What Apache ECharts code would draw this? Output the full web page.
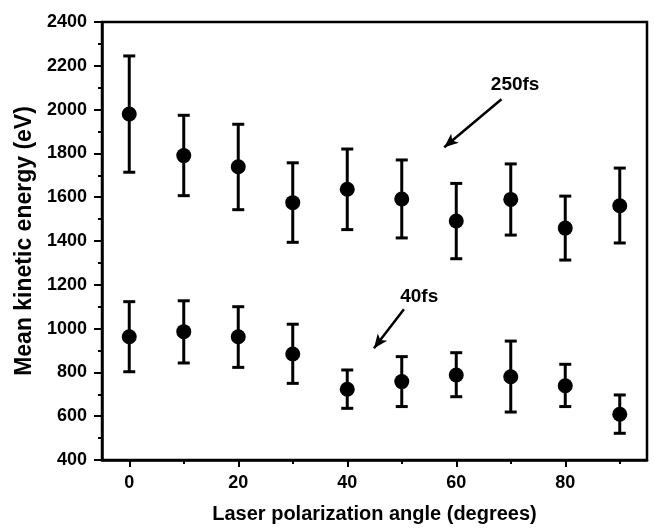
<!DOCTYPE html>
<html>
<head>
<meta charset="utf-8">
<script src="https://cdn.jsdelivr.net/npm/echarts@6/dist/echarts.min.js"></script>
<style>html,body{margin:0;padding:0;background:#fff}#c{width:654px;height:529px}</style>
</head>
<body>
<div id="c"></div>
<script>
// ---- data ----
var angles = [0, 10, 20, 30, 40, 50, 60, 70, 80, 90];
var mean250 = [1980, 1790, 1739, 1575, 1636, 1592, 1491, 1590, 1459, 1561];
var low250  = [1714, 1607, 1543, 1394, 1452, 1414, 1319, 1427, 1313, 1391];
var high250 = [2245, 1974, 1933, 1757, 1820, 1770, 1663, 1752, 1605, 1733];
var mean40  = [963, 986, 963, 884, 723, 758, 788, 780, 739, 609];
var low40   = [803, 843, 823, 750, 636, 644, 689, 619, 644, 522];
var high40  = [1123, 1127, 1100, 1020, 811, 872, 890, 943, 837, 697];
var xMajorTicks = [0, 20, 40, 60, 80];
var xMinorTicks = [10, 30, 50, 70, 90];
var seriesNames = ['250fs', '40fs'];
var labelPos = [[70.8, 2112], [53.2, 1146]];
var arrowFrom = [[68.3, 2047], [50.4, 1088]];
var arrowTo   = [[57.8, 1828], [44.9, 910]];

var FONT = '"Liberation Sans", Arial, sans-serif';
var chart = echarts.init(document.getElementById('c'), null, {renderer: 'canvas'});

function zip(xs, ys) { return xs.map(function (x, i) { return [x, ys[i]]; }); }
function errData(lo, hi) { return angles.map(function (a, i) { return [a, lo[i], hi[i]]; }); }

function renderErr(params, api) {
  var x = api.value(0);
  var p1 = api.coord([x, api.value(1)]);
  var p2 = api.coord([x, api.value(2)]);
  var hw = 6;
  var st = {stroke: '#000', lineWidth: 3};
  return {
    type: 'group',
    children: [
      {type: 'line', shape: {x1: p1[0], y1: p1[1], x2: p2[0], y2: p2[1]}, style: st},
      {type: 'line', shape: {x1: p1[0] - hw, y1: p1[1], x2: p1[0] + hw, y2: p1[1]}, style: st},
      {type: 'line', shape: {x1: p2[0] - hw, y1: p2[1], x2: p2[0] + hw, y2: p2[1]}, style: st}
    ]
  };
}

var option = {
  animation: false,
  backgroundColor: '#fff',
  grid: {left: 102, top: 22, right: 7, bottom: 69, containLabel: false, outerBoundsMode: 'none',
    show: true, borderColor: '#000', borderWidth: 2.5, backgroundColor: 'transparent'},
  xAxis: [{
    type: 'value', min: -5, max: 95,
    name: 'Laser polarization angle (degrees)', nameLocation: 'middle', nameGap: 44,
    nameTextStyle: {fontFamily: FONT, fontWeight: 'bold', fontSize: 20, color: '#000'},
    axisLine: {onZero: false, lineStyle: {color: '#000', width: 2.5}},
    axisTick: {customValues: xMajorTicks, length: 7, lineStyle: {color: '#000', width: 2}},
    axisLabel: {customValues: xMajorTicks, margin: 14, fontFamily: FONT, fontWeight: 'bold', fontSize: 18, color: '#000'},
    splitLine: {show: false}
  }, {
    type: 'value', min: -5, max: 95, position: 'bottom',
    axisLine: {show: false},
    axisTick: {customValues: xMinorTicks, length: 4, lineStyle: {color: '#000', width: 2}},
    axisLabel: {show: false},
    splitLine: {show: false}
  }],
  yAxis: {
    type: 'value', min: 400, max: 2400, interval: 200,
    name: 'Mean kinetic energy (eV)', nameLocation: 'middle', nameGap: 61,
    nameTextStyle: {fontFamily: FONT, fontWeight: 'bold', fontSize: 23, color: '#000'},
    axisLine: {onZero: false, lineStyle: {color: '#000', width: 2.5}},
    axisTick: {length: 8, lineStyle: {color: '#000', width: 2}},
    minorTick: {show: true, splitNumber: 2, length: 4, lineStyle: {color: '#000', width: 2}},
    axisLabel: {margin: 15, fontFamily: FONT, fontWeight: 'bold', fontSize: 18, color: '#000',
      formatter: function (v) { return String(v); }},
    splitLine: {show: false}
  },
  series: [
    {type: 'custom', renderItem: renderErr, data: errData(low250, high250), encode: {x: 0, y: [1, 2]}, z: 2},
    {type: 'custom', renderItem: renderErr, data: errData(low40, high40), encode: {x: 0, y: [1, 2]}, z: 2},
    {type: 'scatter', name: seriesNames[0], data: zip(angles, mean250), symbol: 'circle', symbolSize: 15, itemStyle: {color: '#000', opacity: 1}, z: 3},
    {type: 'scatter', name: seriesNames[1], data: zip(angles, mean40), symbol: 'circle', symbolSize: 15, itemStyle: {color: '#000', opacity: 1}, z: 3},
    {
      type: 'scatter', symbolSize: 0, silent: true, itemStyle: {opacity: 1},
      data: labelPos.map(function (p, i) { return {value: p, name: seriesNames[i]}; }),
      label: {show: true, position: 'inside', formatter: '{b}', fontFamily: FONT, fontWeight: 'bold', fontSize: 19, color: '#000'},
      markLine: {
        silent: true, symbol: ['none', 'arrow'], symbolSize: [9, 14],
        label: {show: false},
        lineStyle: {color: '#000', width: 2.5, type: 'solid', opacity: 1},
        data: arrowFrom.map(function (f, i) { return [{coord: f}, {coord: arrowTo[i]}]; })
      }
    }
  ]
};
chart.setOption(option);
</script>
</body>
</html>
